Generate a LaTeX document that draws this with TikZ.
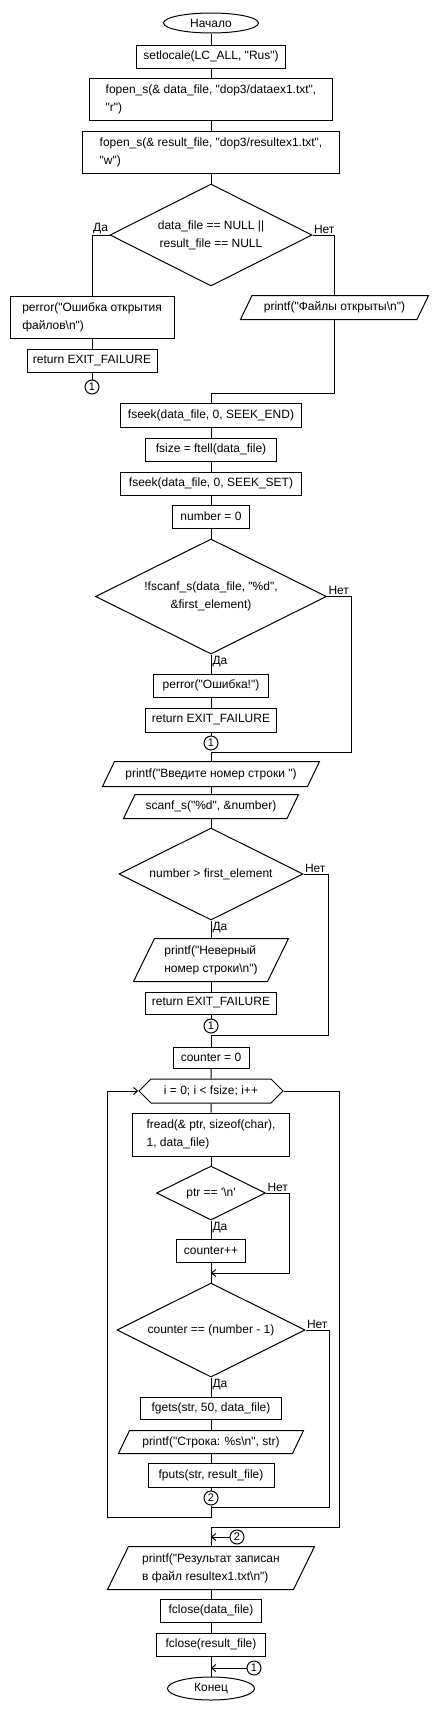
\documentclass[tikz,border=0pt]{standalone}
\usepackage{fontspec}
\setmainfont{Liberation Sans}[Ligatures=TeXOff]
\usetikzlibrary{positioning, arrows.meta, shapes.geometric, shapes.symbols}

\begin{document}
\begin{tikzpicture}[x=1pt, y=-1pt, line width=1pt,
  font=\fontsize{12}{18}\selectfont,
  term/.style={draw, ellipse, inner sep=0pt},
  proc/.style={draw, rectangle, inner sep=2pt, minimum height=23pt},
  io/.style={rectangle, inner sep=2pt, minimum height=23pt,
    append after command={\pgfextra{\draw ([xshift=-#1]\tikzlastnode.south west)
      -- ([xshift=#1]\tikzlastnode.north west) -- ([xshift=#1]\tikzlastnode.north east)
      -- ([xshift=-#1]\tikzlastnode.south east) -- cycle;}}},
  io/.default=5.75,
  cond/.style={draw, diamond, aspect=2, inner sep=0pt, align=center},
  loopbox/.style={draw, signal, signal to=west and east, signal pointer angle=90,
    inner sep=2pt, minimum height=24pt},
  conn/.style={draw, circle, inner sep=0pt, minimum size=14pt, font=\fontsize{11}{11}\selectfont},
  lbl/.style={inner sep=1pt},
  arr/.style={-{Straight Barb[length=4pt, width=7pt]}}
]
    \useasboundingbox (0,0) rectangle (438,1711);

    \node[term, minimum width=95pt, minimum height=20pt] (start) at (211,23) {Начало};
    \node[proc, minimum width=149pt] (locale) at (211,56.5) {setlocale(LC\_ALL, "Rus")};
    \node[proc, minimum width=243pt, minimum height=42pt, align=left] (openData) at (211,99) {fopen\_s(\& data\_file, "dop3/dataex1.txt",\\"r")};
    \node[proc, minimum width=257pt, minimum height=42pt, align=left] (openRes) at (211,152) {fopen\_s(\& result\_file, "dop3/resultex1.txt",\\"w")};
    \node[cond, minimum width=202pt, minimum height=102pt] (chkOpen) at (211,235) {data\_file == NULL ||\\result\_file == NULL};
    \node[lbl, anchor=south east] (yes1) at (chkOpen.west) {Да};
    \node[lbl, anchor=south west] (no1) at (chkOpen.east) {Нет};

    % ветка ошибки открытия
    \node[proc, minimum width=164pt, minimum height=42pt, align=left] (errOpen) at (92,317) {perror("Ошибка открытия\\файлов\textbackslash n")};
    \node[proc, minimum width=130pt] (fail1) at (92,360.5) {return EXIT\_FAILURE};
    \node[conn] (c1a) at (92,387) {1};
    \node[io, minimum width=175.5pt] (okOpen) at (334.5,307.5) {printf("Файлы открыты\textbackslash n")};
    \coordinate (m1) at (211,393);

    \node[proc, minimum width=181pt, minimum height=24pt] (seekEnd) at (211,415) {fseek(data\_file, 0, SEEK\_END)};
    \node[proc, minimum width=131pt] (size) at (211,449.5) {fsize = ftell(data\_file)};
    \node[proc, minimum width=181pt] (seekSet) at (211,483.5) {fseek(data\_file, 0, SEEK\_SET)};
    \node[proc, minimum width=77pt] (num0) at (211,516.5) {number = 0};
    \node[cond, minimum width=231pt, minimum height=115pt] (chkRead) at (211,596.5) {!fscanf\_s(data\_file, "\%d",\\\&first\_element)};
    \node[lbl, anchor=south west] (no2) at (chkRead.east) {Нет};
    \node[lbl, anchor=north west] (yes2) at (chkRead.south) {Да};
    \node[proc, minimum width=115pt] (errRead) at (211,685.5) {perror("Ошибка!")};
    \node[proc, minimum width=131pt, minimum height=24pt] (fail2) at (211,720) {return EXIT\_FAILURE};
    \node[conn] (c1b) at (211,743) {1};
    \coordinate (m2) at (211,752);

    \node[io=6, minimum width=204pt, minimum height=24pt] (askNum) at (211,774) {printf("Введите номер строки ")};
    \node[io, minimum width=162.5pt] (readNum) at (211,806.5) {scanf\_s("\%d", \&number)};
    \node[cond, minimum width=184pt, minimum height=92pt] (chkNum) at (211,874) {number > first\_element};
    \node[lbl, anchor=south west] (no3) at (chkNum.east) {Нет};
    \node[lbl, anchor=north west] (yes3) at (chkNum.south) {Да};
    \node[io=10.5, minimum width=133pt, minimum height=42pt, align=left] (badNum) at (211,960) {printf("Неверный\\номер строки\textbackslash n")};
    \node[proc, minimum width=131pt, minimum height=22pt] (fail3) at (211,1003) {return EXIT\_FAILURE};
    \node[conn] (c1c) at (211,1026) {1};
    \coordinate (m3) at (211,1035);

    % цикл по файлу
    \node[proc, minimum width=76pt, minimum height=21pt] (cnt0) at (211,1057.5) {counter = 0};
    \node[loopbox, minimum width=144pt] (loop) at (211,1091) {i = 0; i < fsize; i++};
    \node[proc, minimum width=157pt, minimum height=43pt, align=left] (readCh) at (211,1134.5) {fread(\& ptr, sizeof(char),\\1, data\_file)};
    \node[cond, minimum width=109pt, minimum height=54pt] (chkNl) at (211,1193) {ptr == '\textbackslash n'};
    \node[lbl, anchor=south west] (no4) at (chkNl.east) {Нет};
    \node[lbl, anchor=north west] (yes4) at (chkNl.south) {Да};
    \node[proc, minimum width=69pt] (cntInc) at (211,1250.5) {counter++};
    \coordinate (m4) at (211,1273);
    \node[cond, minimum width=188pt, minimum height=94pt] (chkLine) at (211,1330) {counter == (number - 1)};
    \node[lbl, anchor=south west] (no5) at (chkLine.east) {Нет};
    \node[lbl, anchor=north west] (yes5) at (chkLine.south) {Да};
    \node[proc, minimum width=141pt, minimum height=22pt] (getLine) at (211,1408) {fgets(str, 50, data\_file)};
    \node[io=5.5, minimum width=173pt, minimum height=22pt] (showLine) at (211,1442) {printf("Строка: \%s\textbackslash n", str)};
    \node[proc, minimum width=126pt, minimum height=24pt] (putLine) at (211,1475) {fputs(str, result\_file)};
    \node[conn] (c2a) at (211,1498) {2};
    \coordinate (m5) at (211,1507);
    \coordinate (m6) at (211,1517);
    \coordinate (m7) at (211,1527);
    \coordinate (m8) at (211,1537);
    \node[conn] (c2b) at (237,1537) {2};

    \node[io=10.5, minimum width=185pt, minimum height=42pt, align=left] (showDone) at (211,1568) {printf("Результат записан\\в файл resultex1.txt\textbackslash n")};
    \node[proc, minimum width=101pt] (closeData) at (211,1610.5) {fclose(data\_file)};
    \node[proc, minimum width=109pt] (closeRes) at (211,1644.5) {fclose(result\_file)};
    \coordinate (m9) at (211,1668);
    \node[conn] (c1d) at (254,1668) {1};
    \node[term, minimum width=87pt, minimum height=23pt] (stop) at (211,1688.5) {Конец};

    \draw (start) -- (locale);
    \draw (locale) -- (openData);
    \draw (openData) -- (openRes);
    \draw (openRes) -- (chkOpen);
    \draw (chkOpen.west) -| (errOpen.north);
    \draw (chkOpen.east) -| (okOpen.north);
    \draw (errOpen) -- (fail1);
    \draw (fail1) -- (c1a);
    \draw (okOpen.south) |- (m1) -- (seekEnd);
    \draw (seekEnd) -- (size);
    \draw (size) -- (seekSet);
    \draw (seekSet) -- (num0);
    \draw (num0) -- (chkRead);
    \draw (chkRead) -- (errRead);
    \draw (errRead) -- (fail2);
    \draw (fail2) -- (c1b);
    \draw (chkRead.east) -- ++(24,0) |- (m2) -- (askNum);
    \draw (askNum) -- (readNum);
    \draw (readNum) -- (chkNum);
    \draw (chkNum) -- (badNum);
    \draw (badNum) -- (fail3);
    \draw (fail3) -- (c1c);
    \draw (chkNum.east) -- ++(25,0) |- (m3) -- (cnt0);
    \draw (cnt0) -- (loop);
    \draw (loop) -- (readCh);
    \draw (readCh) -- (chkNl);
    \draw (chkNl) -- (cntInc);
    \draw (cntInc) -- (chkLine);
    \draw[arr] (chkNl.east) -- ++(23,0) |- (m4);
    \draw (chkLine) -- (getLine);
    \draw (getLine) -- (showLine);
    \draw (showLine) -- (putLine);
    \draw (putLine) -- (c2a);
    \draw (chkLine.east) -- ++(24,0) |- (m5);
    \draw[arr] (c2a) -- (m6) -- ++(-104,0) |- (loop.west);
    \draw (loop.east) -- ++(56,0) |- (m7) -- (showDone);
    \draw[arr] (c2b) -- (m8);
    \draw (showDone) -- (closeData);
    \draw (closeData) -- (closeRes);
    \draw (closeRes) -- (stop);
    \draw[arr] (c1d) -- (m9);
\end{tikzpicture}
\end{document}
